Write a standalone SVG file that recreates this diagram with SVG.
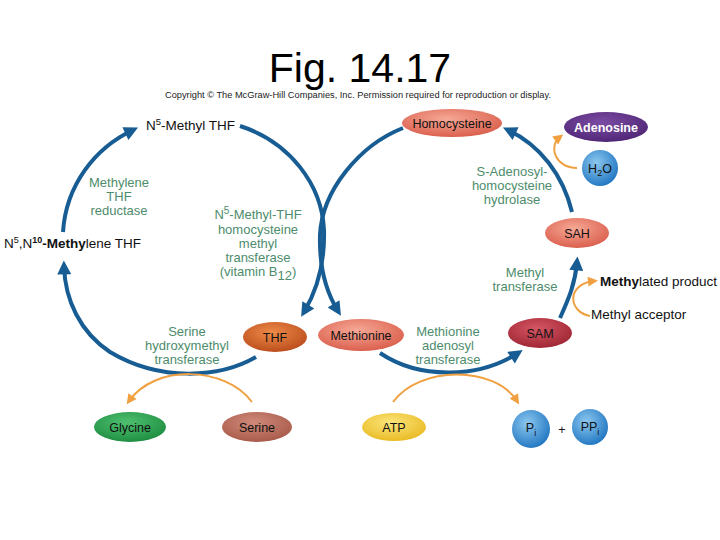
<svg xmlns="http://www.w3.org/2000/svg" width="720" height="540" viewBox="0 0 720 540">
<style>
text{font-family:"Liberation Sans",Arial,sans-serif}
.t{font-size:12.5px;fill:#111;text-anchor:middle}
.e{font-size:13px;fill:#4d8c6c;text-anchor:middle}
.k{font-size:13.5px;fill:#111}
.blue{fill:none;stroke:#175c93;stroke-width:4;stroke-linecap:butt}
.or{fill:none;stroke:#f0a040;stroke-width:2}
</style>
<defs>
<marker id="ab" viewBox="0 0 10 10" refX="6" refY="5" markerUnits="userSpaceOnUse" markerWidth="16" markerHeight="14" orient="auto"><path d="M0,0 L10,5 L0,10 z" fill="#175c93"/></marker>
<marker id="ao" viewBox="0 0 10 10" refX="6" refY="5" markerUnits="userSpaceOnUse" markerWidth="11" markerHeight="10" orient="auto"><path d="M0,0 L10,5 L0,10 z" fill="#f0a040"/></marker>
<radialGradient id="gs" cx="0.45" cy="0.35" r="0.7"><stop offset="0" stop-color="#f6a896"/><stop offset="1" stop-color="#d95a48"/></radialGradient>
<radialGradient id="gam" cx="0.45" cy="0.35" r="0.7"><stop offset="0" stop-color="#d65563"/><stop offset="1" stop-color="#9c2432"/></radialGradient>
<radialGradient id="gthf" cx="0.45" cy="0.35" r="0.7"><stop offset="0" stop-color="#ee8a48"/><stop offset="1" stop-color="#b84a1a"/></radialGradient>
<radialGradient id="gad" cx="0.45" cy="0.35" r="0.7"><stop offset="0" stop-color="#7b4ca3"/><stop offset="1" stop-color="#4e2474"/></radialGradient>
<radialGradient id="gb" cx="0.4" cy="0.35" r="0.7"><stop offset="0" stop-color="#8cc8f0"/><stop offset="1" stop-color="#1e74c0"/></radialGradient>
<radialGradient id="gg" cx="0.45" cy="0.35" r="0.7"><stop offset="0" stop-color="#4fc070"/><stop offset="1" stop-color="#1b8a3e"/></radialGradient>
<radialGradient id="gser" cx="0.45" cy="0.35" r="0.7"><stop offset="0" stop-color="#d08a7a"/><stop offset="1" stop-color="#a65848"/></radialGradient>
<radialGradient id="gatp" cx="0.45" cy="0.35" r="0.7"><stop offset="0" stop-color="#fbe57a"/><stop offset="1" stop-color="#e8b820"/></radialGradient>
</defs>
<rect width="720" height="540" fill="#fff"/>
<text x="360" y="82" font-size="41" text-anchor="middle" fill="#000">Fig. 14.17</text>
<text x="165" y="98" font-size="8.5" fill="#222" textLength="386" lengthAdjust="spacingAndGlyphs">Copyright © The McGraw-Hill Companies, Inc. Permission required for reproduction or display.</text>

<g id="connectors">
<path class="blue" d="M63,232 C66,185 95,148 133,130" marker-end="url(#ab)"/>
<path class="blue" d="M240,126 C290,142 322,185 324,230 C325,265 316,292 304,312" marker-end="url(#ab)"/>
<path class="blue" d="M256,357 C220,378 160,382 110,352 C80,332 65,300 64,266" marker-end="url(#ab)"/>
<path class="blue" d="M403,128 C360,145 322,190 320,235 C319,270 328,295 338,311" marker-end="url(#ab)"/>
<path class="blue" d="M572,212 C563,175 540,145 508,130" marker-end="url(#ab)"/>
<path class="blue" d="M380,353 C420,380 480,378 518,353" marker-end="url(#ab)"/>
<path class="blue" d="M560,318 C568,300 575,285 577,262" marker-end="url(#ab)"/>
<path class="or" d="M590,316 C568,312 566,284 594,281" marker-end="url(#ao)"/>
<path class="or" d="M577,168 C555,168 548,146 560,137" marker-end="url(#ao)"/>
<path class="or" d="M252,402 C225,366 155,364 129,401" marker-end="url(#ao)"/>
<path class="or" d="M393,402 C420,365 495,366 517,401" marker-end="url(#ao)"/>
</g>

<g id="n5methylthf"><text class="k" x="146" y="130" font-size="14">N<tspan dy="-5" font-size="9.5">5</tspan><tspan dy="5">-Methyl THF</tspan></text></g>
<g id="methylenethf"><text class="k" x="4" y="248" font-size="13">N<tspan dy="-5" font-size="9">5</tspan><tspan dy="5">,N</tspan><tspan dy="-5" font-size="9" font-weight="bold">10</tspan><tspan dy="5" font-weight="bold">-Methy</tspan>lene THF</text></g>

<g id="homocysteine"><ellipse cx="452" cy="123" rx="50" ry="14" fill="url(#gs)"/><text class="t" x="452" y="127.5">Homocysteine</text></g>
<g id="adenosine"><ellipse cx="606" cy="127" rx="42" ry="15" fill="url(#gad)"/><text class="t" x="606" y="132" font-weight="bold" font-size="13" style="fill:#fff">Adenosine</text></g>
<g id="h2o"><circle cx="600" cy="168" r="18" fill="url(#gb)"/><text class="t" x="600" y="173">H<tspan dy="3" font-size="9">2</tspan><tspan dy="-3">O</tspan></text></g>
<g id="sah"><ellipse cx="577" cy="233" rx="32" ry="15" fill="url(#gs)"/><text class="t" x="577" y="237.5">SAH</text></g>
<g id="sam"><ellipse cx="540" cy="333" rx="32" ry="15" fill="url(#gam)"/><text class="t" x="540" y="337.5">SAM</text></g>
<g id="methionine"><ellipse cx="361" cy="335" rx="43" ry="16" fill="url(#gs)"/><text class="t" x="361" y="339.5">Methionine</text></g>
<g id="thf"><ellipse cx="275" cy="337" rx="32" ry="15" fill="url(#gthf)"/><text class="t" x="275" y="341.5">THF</text></g>
<g id="glycine"><ellipse cx="130" cy="427" rx="36" ry="15" fill="url(#gg)"/><text class="t" x="130" y="431.5">Glycine</text></g>
<g id="serine"><ellipse cx="257" cy="427" rx="35" ry="15" fill="url(#gser)"/><text class="t" x="257" y="431.5">Serine</text></g>
<g id="atp"><ellipse cx="394" cy="427" rx="32" ry="14" fill="url(#gatp)"/><text class="t" x="394" y="431.5">ATP</text></g>
<g id="pi"><circle cx="531" cy="429" r="19" fill="url(#gb)"/><text class="t" x="531" y="432">P<tspan dy="4" font-size="9">i</tspan></text></g>
<g id="plus"><text class="t" x="562" y="434" font-size="16">+</text></g>
<g id="ppi"><circle cx="590" cy="427" r="18" fill="url(#gb)"/><text class="t" x="590" y="431">PP<tspan dy="4" font-size="9">i</tspan></text></g>
<g id="methylatedproduct"><text class="k" x="600" y="286" font-size="13"><tspan font-weight="bold">Methy</tspan>lated product</text></g>
<g id="methylacceptor"><text class="k" x="591" y="319" font-size="13">Methyl acceptor</text></g>

<g id="enzymes">
<text class="e"><tspan x="119" y="187">Methylene</tspan><tspan x="119" y="201">THF</tspan><tspan x="119" y="215">reductase</tspan></text>
<text class="e"><tspan x="258" y="219">N<tspan dy="-5" font-size="10">5</tspan><tspan dy="5">-Methyl-THF</tspan></tspan><tspan x="258" y="234">homocysteine</tspan><tspan x="258" y="248">methyl</tspan><tspan x="258" y="262">transferase</tspan><tspan x="258" y="276">(vitamin B<tspan dy="4">12</tspan><tspan dy="-4">)</tspan></tspan></text>
<text class="e"><tspan x="187" y="336">Serine</tspan><tspan x="187" y="350">hydroxymethyl</tspan><tspan x="187" y="364">transferase</tspan></text>
<text class="e"><tspan x="512" y="176">S-Adenosyl-</tspan><tspan x="512" y="190">homocysteine</tspan><tspan x="512" y="204">hydrolase</tspan></text>
<text class="e"><tspan x="525" y="277">Methyl</tspan><tspan x="525" y="291">transferase</tspan></text>
<text class="e"><tspan x="448" y="336">Methionine</tspan><tspan x="448" y="350">adenosyl</tspan><tspan x="448" y="364">transferase</tspan></text>
</g>
</svg>
